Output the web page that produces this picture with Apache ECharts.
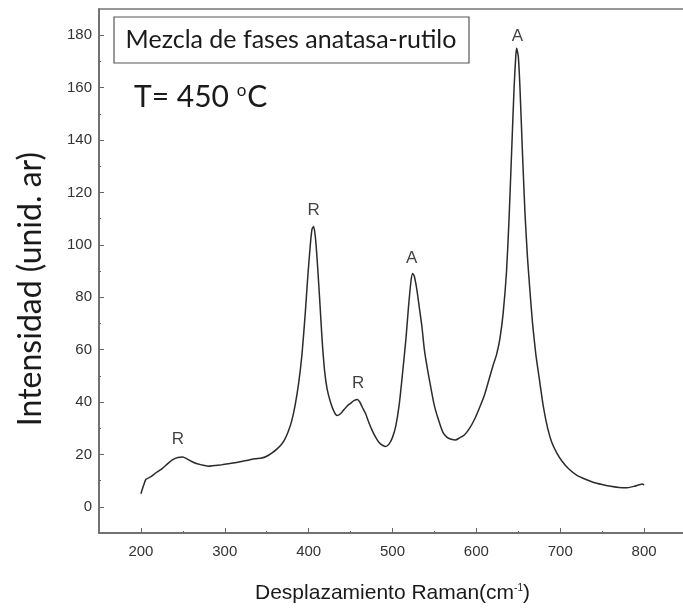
<!DOCTYPE html>
<html>
<head>
<meta charset="utf-8">
<script src="https://cdn.jsdelivr.net/npm/echarts@6/dist/echarts.min.js"></script>
<style>
  html, body { margin: 0; padding: 0; background: #fff; }
  #chart { width: 683px; height: 609px; }
</style>
</head>
<body>
<div id="chart"></div>
<script>
// Raman spectrum
const ramanShift = [200, 203, 206, 212, 218, 225, 232, 238, 244, 250, 255, 260, 266, 272, 280, 288, 296, 304, 312, 320,
  328, 336, 344, 350, 356, 362, 368, 372, 376, 380, 384, 388, 392, 396, 399, 402, 404, 406, 408, 410,
  413, 416, 419, 422, 426, 430, 434, 438, 442, 446, 450, 454, 458, 461, 464, 468, 472, 476, 480, 484,
  488, 492, 496, 500, 504, 508, 512, 516, 519, 522, 524, 526, 529, 532, 535, 538, 542, 546, 550, 555,
  560, 565, 570, 575, 580, 586, 592, 598, 604, 610, 615, 620, 624, 628, 632, 636, 639, 642, 645, 647,
  648, 650, 652, 655, 658, 661, 664, 667, 671, 675, 680, 685, 690, 696, 702, 710, 720, 730, 740, 750,
  760, 770, 780, 788, 794, 798, 800];
const intensity = [5, 8, 10.5, 11.5, 13, 14.5, 16.5, 18, 18.8, 19, 18.3, 17.4, 16.5, 16, 15.5, 15.8, 16, 16.4, 16.8, 17.3,
  17.8, 18.3, 18.6, 19.3, 20.5, 22, 24, 26, 29, 33, 39, 47, 58, 74, 88, 100, 106, 107, 103, 95,
  80, 64, 52, 45, 40, 36.5, 34.8, 35.5, 37, 38.5, 39.5, 40.5, 41, 40, 38, 35.5, 32, 29, 26.5, 24.5,
  23.5, 23, 24, 26.5, 31, 39, 51, 64, 76, 86, 89, 88, 83, 76, 69, 60, 52, 45, 38.5, 33,
  28.5, 26.5, 25.8, 25.5, 26.3, 27.5, 30, 33.5, 38, 43, 48.5, 54, 58, 64, 74, 90, 110, 135, 160, 172,
  175, 172, 160, 135, 112, 95, 82, 70, 58, 49, 38, 30, 24.5, 20.5, 17.5, 14.5, 12, 10.5, 9.3, 8.5,
  7.8, 7.4, 7.3, 7.8, 8.4, 8.7, 8.3];

// peak labels (R = rutilo, A = anatasa)
const peakShift = [244, 406, 459, 523, 649];
const peakLabelY = [25.6, 113, 47.3, 94.7, 179.4];
const peakNames = ['R', 'R', 'R', 'A', 'A'];

const xMajorTicks = [200, 300, 400, 500, 600, 700, 800];
const xMinorTicks = [250, 350, 450, 550, 650, 750];
const yMajorTicks = [0, 20, 40, 60, 80, 100, 120, 140, 160, 180];
const yMinorTicks = [10, 30, 50, 70, 90, 110, 130, 150, 170];

const axisGray = '#666';
const tickFont = 'Liberation Sans, Arial, sans-serif';

const chart = echarts.init(document.getElementById('chart'));

const minorAxis = (ticks) => ({
  type: 'value',
  axisLine: { show: false, onZero: false },
  axisTick: { inside: true, length: 2, customValues: ticks, lineStyle: { color: axisGray } },
  axisLabel: { show: false },
  splitLine: { show: false },
});

const option = {
  animation: false,
  backgroundColor: '#fff',
  grid: {
    left: 99,
    width: 587,
    top: 9,
    bottom: 76,
    show: true,
    borderColor: '#777',
    borderWidth: 1.5,
    outerBoundsMode: 'none',
  },
  xAxis: [
    {
      type: 'value',
      min: 150,
      max: 850,
      position: 'bottom',
      axisLine: { onZero: false, lineStyle: { color: axisGray, width: 1.5 } },
      axisTick: { inside: true, length: 5, customValues: xMajorTicks, lineStyle: { color: axisGray } },
      axisLabel: { customValues: xMajorTicks, color: '#333', fontSize: 15, margin: 11, fontFamily: tickFont },
      splitLine: { show: false },
      name: 'Desplazamiento Raman(cm{sup|-1})',
      nameLocation: 'middle',
      nameGap: 50,
      nameTextStyle: {
        color: '#1a1a1a',
        fontSize: 21,
        fontFamily: tickFont,
        rich: { sup: { fontSize: 10, fontFamily: tickFont, color: '#1a1a1a', padding: [0, 0, 11, 0] } },
      },
    },
    Object.assign({ min: 150, max: 850, position: 'bottom' }, minorAxis(xMinorTicks)),
  ],
  yAxis: [
    {
      type: 'value',
      min: -10,
      max: 190,
      position: 'left',
      axisLine: { onZero: false, lineStyle: { color: axisGray, width: 1.5 } },
      axisTick: { inside: true, length: 5, customValues: yMajorTicks, lineStyle: { color: axisGray } },
      axisLabel: { customValues: yMajorTicks, color: '#333', fontSize: 15, margin: 7, fontFamily: tickFont },
      splitLine: { show: false },
    },
    Object.assign({ min: -10, max: 190, position: 'left' }, minorAxis(yMinorTicks)),
  ],
  graphic: [
    {
      type: 'rect',
      shape: { x: 114, y: 17, width: 355, height: 46 },
      style: { fill: '#fff', stroke: '#555', lineWidth: 1.2 },
      z: 10,
    },
    {
      type: 'text',
      x: 291,
      y: 40,
      z: 11,
      style: {
        text: 'Mezcla de fases anatasa-rutilo',
        fill: '#1a1a1a',
        font: '25px Lato, sans-serif',
        textAlign: 'center',
        textVerticalAlign: 'middle',
      },
    },
    {
      type: 'text',
      x: 134,
      y: 97,
      z: 11,
      style: {
        text: 'T= 450 {sup|o}C',
        fill: '#1a1a1a',
        font: '30px Lato, sans-serif',
        textVerticalAlign: 'middle',
        rich: { sup: { fontSize: 17, fontFamily: 'Lato', fill: '#1a1a1a', padding: [0, 1, 12, 0] } },
      },
    },
    {
      type: 'text',
      x: 31,
      y: 289,
      rotation: Math.PI / 2,
      z: 11,
      style: {
        text: 'Intensidad (unid. ar)',
        fill: '#1a1a1a',
        font: '32px Lato, sans-serif',
        textAlign: 'center',
        textVerticalAlign: 'middle',
      },
    },
  ],
  series: [
    {
      type: 'line',
      xAxisIndex: 0,
      yAxisIndex: 0,
      data: ramanShift.map((x, i) => [x, intensity[i]]),
      showSymbol: false,
      smooth: 0.2,
      lineStyle: { color: '#2b2b2b', width: 1.5 },
    },
    {
      type: 'scatter',
      xAxisIndex: 0,
      yAxisIndex: 0,
      data: peakShift.map((x, i) => [x, peakLabelY[i]]),
      symbolSize: 1,
      itemStyle: { color: 'rgba(0,0,0,0)' },
      label: {
        show: true,
        position: 'inside',
        formatter: (p) => peakNames[p.dataIndex],
        color: '#111',
        fontSize: 17,
        fontFamily: tickFont,
      },
    },
  ],
};

chart.setOption(option);
</script>
</body>
</html>
